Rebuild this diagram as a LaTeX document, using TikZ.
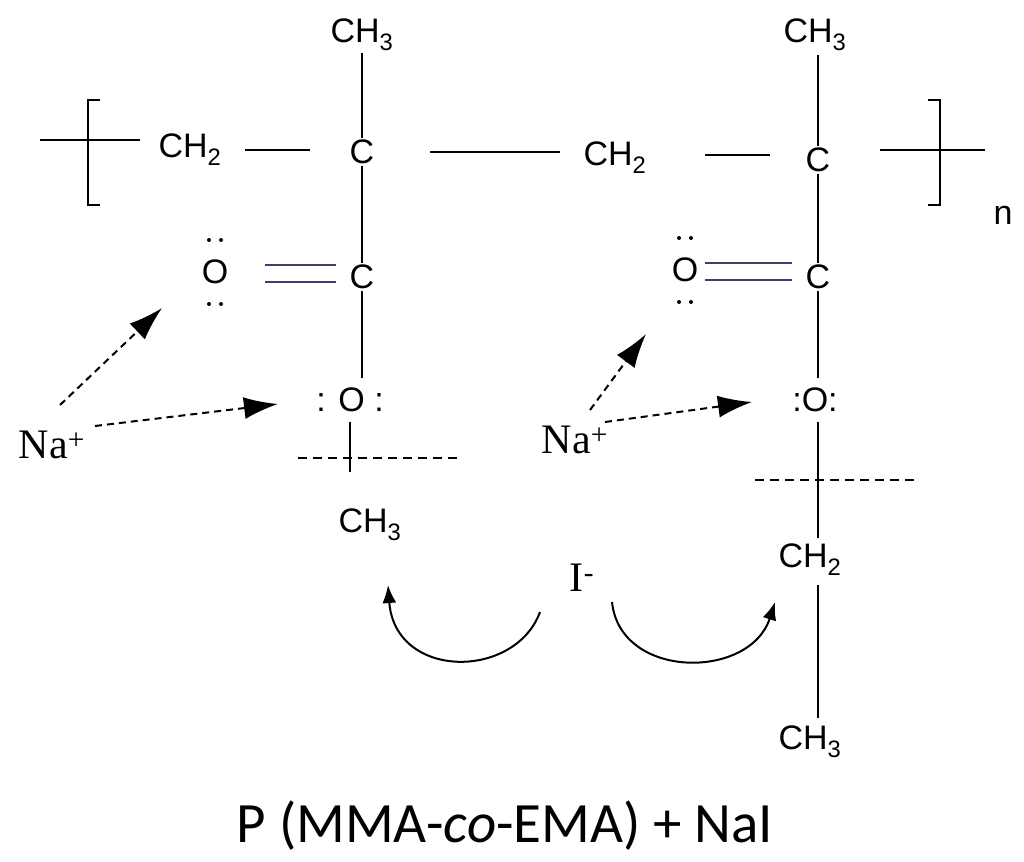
\documentclass[tikz,border=0pt]{standalone}
\usepackage{fontspec}
\setmainfont{Liberation Sans}
\newfontfamily\serifnf{Liberation Serif}
\newfontfamily\calib{Carlito}
\usetikzlibrary{arrows.meta}
\begin{document}
\begin{tikzpicture}[x=1pt,y=-1pt,
  atom/.style={inner sep=2pt,font=\fontsize{34}{36}\selectfont},
  ion/.style={inner sep=0pt,font=\serifnf\fontsize{42}{44}\selectfont},
  bond/.style={line width=1.8pt},
  dbond/.style={line width=2.4pt,draw={rgb,255:red,60;green,60;blue,110}},
  lp/.style={fill=black},
  dasharrow/.style={line width=2pt,dash pattern=on 7pt off 5pt,-{Latex[length=34pt,width=22pt]}},
  curvearrow/.style={line width=2pt,-{Latex[length=18pt,width=14pt]}}]
\useasboundingbox (0,0) rectangle (1024,861);
% top chain
\node[atom] (ch3a) at (362,35) {CH\textsubscript{3}};
\node[atom] (ch3b) at (815,35) {CH\textsubscript{3}};
\node[atom] (ch2a) at (190,150) {CH\textsubscript{2}};
\node[atom] (c1) at (362,152) {C};
\node[atom] (ch2b) at (615,158) {CH\textsubscript{2}};
\node[atom] (c2) at (818,160) {C};
\node[atom] (n) at (1003,215) {n};
\draw[bond] (40,140) -- (140,140);
\draw[bond] (100,100) -- (88,100) -- (88,205) -- (100,205);
\draw[bond] (928,100) -- (940,100) -- (940,205) -- (928,205);
\draw[bond] (880,150) -- (985,150);
\draw[bond] (245,150) -- (310,150);
\draw[bond] (430,152) -- (560,152);
\draw[bond] (705,155) -- (770,155);
\draw[bond] (ch3a) -- (c1);
\draw[bond] (818,55) -- (c2);
% left pendant
\node[atom] (o1) at (215,272) {O};
\foreach \x in {209,221} {\fill[lp] (\x,240) circle (2pt); \fill[lp] (\x,304) circle (2pt);}
\node[atom] (c3) at (362,277) {C};
\draw[bond] (c1) -- (c3);
\draw[dbond] (265,265) -- (336,265);
\draw[dbond] (265,282) -- (336,282);
\node[atom] (o2) at (350,400) {: O :};
\draw[bond] (c3) -- (362,378);
\draw[bond] (350,422) -- (350,472);
\draw[bond,dash pattern=on 9pt off 6pt] (298,458) -- (460,458);
\node[atom] (ch3c) at (370,525) {CH\textsubscript{3}};
% right pendant
\node[atom] (o3) at (685,270) {O};
\foreach \x in {679,691} {\fill[lp] (\x,238) circle (2pt); \fill[lp] (\x,302) circle (2pt);}
\node[atom] (c4) at (818,277) {C};
\draw[bond] (c2) -- (c4);
\draw[dbond] (705,263) -- (792,263);
\draw[dbond] (705,280) -- (792,280);
\node[atom] (o4) at (815,400) {:O:};
\draw[bond] (c4) -- (818,378);
\draw[bond] (818,422) -- (818,538);
\draw[bond,dash pattern=on 9pt off 6pt] (755,480) -- (915,480);
\node[atom] (ch2c) at (810,560) {CH\textsubscript{2}};
\draw[bond] (818,585) -- (818,718);
\node[atom] (ch3d) at (810,742) {CH\textsubscript{3}};
% ions
\node[ion] (na1) at (52,445) {Na\textsuperscript{+}};
\node[ion] (na2) at (575,440) {Na\textsuperscript{+}};
\node[ion] (iod) at (582,578) {I\textsuperscript{-}};
\coordinate (t1) at (162,308);
\coordinate (t2) at (278,404);
\coordinate (t3) at (646,334);
\coordinate (t4) at (752,402);
\draw[dasharrow] (60,405) -- (t1);
\draw[dasharrow] (95,426) -- (t2);
\draw[dasharrow] (590,410) -- (t3);
\draw[dasharrow] (605,422) -- (t4);
\coordinate (a1) at (388,585);
\coordinate (a2) at (775,602);
\draw[curvearrow] (540,612) .. controls (515,680) and (395,680) .. (a1);
\draw[curvearrow] (612,602) .. controls (620,680) and (750,680) .. (a2);
% caption
\node[inner sep=0pt,font=\calib\fontsize{57}{62}\selectfont] (cap) at (505,826) {P (MMA-\textit{co}-EMA) + NaI};
\end{tikzpicture}
\end{document}
